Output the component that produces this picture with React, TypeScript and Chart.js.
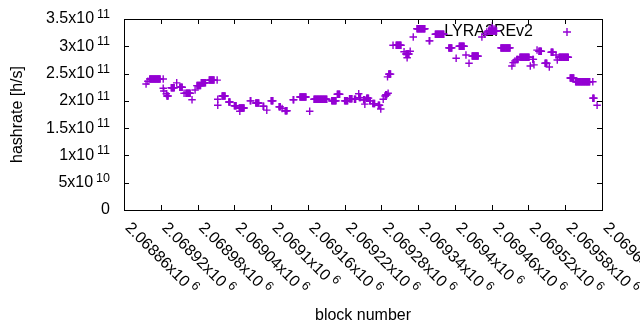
import { useEffect, useRef } from 'react';
import { Chart, registerables } from 'chart.js';

Chart.register(...registerables);

// X axis (block number) ticks: mantissa of value x10^6
const xTickValues = [
  2068860, 2068920, 2068980, 2069040, 2069100, 2069160, 2069220,
  2069280, 2069340, 2069400, 2069460, 2069520, 2069580, 2069640,
];
const xTickMantissas = [
  '2.06886', '2.06892', '2.06898', '2.06904', '2.0691', '2.06916', '2.06922',
  '2.06928', '2.06934', '2.0694', '2.06946', '2.06952', '2.06958', '2.06964',
];
const xTickExponent = '6';

// Y axis (hashrate) ticks
const yTickValues = [0, 5e10, 1e11, 1.5e11, 2e11, 2.5e11, 3e11, 3.5e11];
const yTickMantissas = ['0', '5', '1', '1.5', '2', '2.5', '3', '3.5'];
const yTickExponents = ['', '10', '11', '11', '11', '11', '11', '11'];

const seriesName = 'LYRA2REv2';

// Runs of consecutive blocks sharing one hashrate estimate:
// [first block, last block, hashrate in GH/s]
const hashrateRuns: [number, number, number][] = [
  [2068896, 2068896, 231],
  [2068899, 2068899, 236],
  [2068902, 2068919, 240],
  [2068924, 2068924, 240],
  [2068924, 2068924, 223],
  [2068925, 2068925, 218],
  [2068929, 2068929, 213],
  [2068930, 2068932, 209],
  [2068937, 2068942, 224],
  [2068946, 2068946, 233],
  [2068951, 2068955, 225],
  [2068958, 2068958, 214],
  [2068961, 2068968, 214],
  [2068971, 2068971, 202],
  [2068976, 2068976, 220],
  [2068979, 2068985, 228],
  [2068986, 2068993, 233],
  [2068999, 2069007, 238],
  [2069012, 2069012, 238],
  [2069013, 2069013, 203],
  [2069013, 2069013, 192],
  [2069020, 2069025, 209],
  [2069031, 2069033, 198],
  [2069040, 2069043, 191],
  [2069048, 2069056, 187],
  [2069049, 2069049, 181],
  [2069066, 2069067, 200],
  [2069075, 2069080, 196],
  [2069087, 2069088, 190],
  [2069093, 2069093, 183],
  [2069100, 2069103, 200],
  [2069113, 2069115, 189],
  [2069118, 2069118, 186],
  [2069123, 2069126, 182],
  [2069136, 2069137, 202],
  [2069147, 2069157, 207],
  [2069163, 2069163, 181],
  [2069170, 2069191, 203],
  [2069199, 2069206, 200],
  [2069208, 2069212, 212],
  [2069220, 2069225, 200],
  [2069228, 2069232, 204],
  [2069236, 2069238, 203],
  [2069243, 2069243, 213],
  [2069244, 2069246, 206],
  [2069251, 2069253, 202],
  [2069253, 2069253, 194],
  [2069256, 2069259, 205],
  [2069261, 2069262, 200],
  [2069266, 2069269, 195],
  [2069275, 2069277, 192],
  [2069279, 2069279, 185],
  [2069283, 2069283, 203],
  [2069286, 2069286, 209],
  [2069287, 2069289, 211],
  [2069291, 2069291, 214],
  [2069290, 2069290, 244],
  [2069292, 2069295, 249],
  [2069299, 2069299, 302],
  [2069304, 2069312, 302],
  [2069317, 2069317, 290],
  [2069320, 2069325, 286],
  [2069322, 2069322, 279],
  [2069327, 2069327, 291],
  [2069332, 2069332, 317],
  [2069338, 2069351, 332],
  [2069358, 2069359, 310],
  [2069368, 2069382, 322],
  [2069390, 2069395, 297],
  [2069402, 2069402, 278],
  [2069407, 2069415, 300],
  [2069418, 2069418, 284],
  [2069423, 2069423, 269],
  [2069428, 2069438, 282],
  [2069444, 2069444, 317],
  [2069449, 2069449, 322],
  [2069452, 2069452, 326],
  [2069455, 2069468, 328],
  [2069461, 2069461, 337],
  [2069475, 2069490, 297],
  [2069493, 2069493, 264],
  [2069495, 2069495, 270],
  [2069498, 2069498, 273],
  [2069501, 2069503, 276],
  [2069506, 2069521, 280],
  [2069523, 2069523, 264],
  [2069527, 2069528, 276],
  [2069529, 2069529, 266],
  [2069534, 2069534, 293],
  [2069537, 2069541, 291],
  [2069547, 2069550, 269],
  [2069554, 2069554, 262],
  [2069557, 2069560, 289],
  [2069565, 2069565, 284],
  [2069567, 2069567, 275],
  [2069570, 2069585, 280],
  [2069588, 2069594, 242],
  [2069597, 2069620, 235],
  [2069625, 2069625, 235],
  [2069625, 2069627, 205],
  [2069632, 2069632, 192],
];

const FONT = '"Liberation Sans", Arial, sans-serif';
const COLOR = '#9400D3';
const MAIN_FONT = `16px ${FONT}`;
const SUP_FONT = `12.5px ${FONT}`;

const gnuplotFrame = {
  id: 'gnuplotFrame',
  beforeDatasetsDraw(chart: any) {
    const { ctx, chartArea } = chart;
    ctx.save();
    // legend
    ctx.fillStyle = '#000';
    ctx.font = MAIN_FONT;
    ctx.textAlign = 'right';
    ctx.textBaseline = 'middle';
    ctx.fillText(seriesName, chartArea.right - 69, chartArea.top + 13);
    const mx = chartArea.right - 35;
    const my = chartArea.top + 13;
    ctx.strokeStyle = COLOR;
    ctx.lineWidth = 1.4;
    ctx.beginPath();
    ctx.moveTo(mx - 4, my);
    ctx.lineTo(mx + 4, my);
    ctx.moveTo(mx, my - 4);
    ctx.lineTo(mx, my + 4);
    ctx.stroke();
    ctx.restore();
  },
  afterDraw(chart: any) {
    const { ctx, chartArea, scales } = chart;
    const xs = scales.x;
    const ys = scales.y;
    const L = chartArea.left;
    const R = chartArea.right;
    const T = chartArea.top;
    const B = chartArea.bottom;
    ctx.save();
    ctx.strokeStyle = '#000';
    ctx.lineWidth = 1;
    ctx.strokeRect(Math.round(L) + 0.5, Math.round(T) + 0.5, Math.round(R - L), Math.round(B - T));
    const tl = 5;
    ctx.beginPath();
    xTickValues.forEach((v) => {
      const px = Math.round(xs.getPixelForValue(v)) + 0.5;
      ctx.moveTo(px, B);
      ctx.lineTo(px, B - tl);
      ctx.moveTo(px, T);
      ctx.lineTo(px, T + tl);
    });
    yTickValues.forEach((v) => {
      const py = Math.round(ys.getPixelForValue(v)) + 0.5;
      ctx.moveTo(L, py);
      ctx.lineTo(L + tl, py);
      ctx.moveTo(R, py);
      ctx.lineTo(R - tl, py);
    });
    ctx.stroke();

    ctx.fillStyle = '#000';
    // y tick labels
    const yRight = L - 14;
    yTickValues.forEach((v, i) => {
      const py = ys.getPixelForValue(v);
      const exp = yTickExponents[i];
      ctx.textBaseline = 'middle';
      ctx.textAlign = 'right';
      if (!exp) {
        ctx.font = MAIN_FONT;
        ctx.fillText(yTickMantissas[i], yRight, py);
        return;
      }
      ctx.font = SUP_FONT;
      const w = ctx.measureText(exp).width;
      ctx.textBaseline = 'alphabetic';
      ctx.fillText(exp, yRight, py - 1);
      ctx.font = MAIN_FONT;
      ctx.textBaseline = 'middle';
      ctx.fillText(yTickMantissas[i] + 'x10', yRight - w - 3, py);
    });

    // x tick labels, rotated
    xTickValues.forEach((v, i) => {
      const px = xs.getPixelForValue(v);
      ctx.save();
      ctx.translate(px + 3.5, B + 15.5);
      ctx.rotate(Math.PI / 4);
      ctx.textAlign = 'left';
      ctx.textBaseline = 'middle';
      ctx.font = MAIN_FONT;
      const main = xTickMantissas[i] + 'x10';
      ctx.fillText(main, 0, 0);
      const w = ctx.measureText(main).width;
      ctx.font = SUP_FONT;
      ctx.fillText(xTickExponent, w + 4, -5);
      ctx.restore();
    });

    // axis titles
    ctx.font = MAIN_FONT;
    ctx.textAlign = 'center';
    ctx.textBaseline = 'middle';
    ctx.fillText('block number', (L + R) / 2, 316);
    ctx.save();
    ctx.translate(18, (T + B) / 2);
    ctx.rotate(-Math.PI / 2);
    ctx.fillText('hashrate [h/s]', 0, 0);
    ctx.restore();
    ctx.restore();
  },
};

export default function App() {
  const canvasRef = useRef<HTMLCanvasElement | null>(null);

  useEffect(() => {
    const canvas = canvasRef.current;
    if (!canvas) return;
    const points: { x: number; y: number }[] = [];
    hashrateRuns.forEach(([start, end, gh]) => {
      for (let b = start; b <= end; b++) points.push({ x: b, y: gh * 1e9 });
    });
    const chart = new Chart(canvas, {
      type: 'scatter',
      data: {
        datasets: [
          {
            label: seriesName,
            data: points,
            pointStyle: 'cross',
            pointRadius: 3.75,
            pointHoverRadius: 3.75,
            borderColor: COLOR,
            backgroundColor: COLOR,
            pointBorderWidth: 1.4,
            borderWidth: 1.4,
            showLine: false,
          },
        ],
      },
      options: {
        responsive: false,
        animation: false,
        events: [],
        layout: { padding: { left: 124, right: 38, top: 19, bottom: 120 } },
        plugins: { legend: { display: false }, tooltip: { enabled: false } },
        scales: {
          x: { type: 'linear', min: 2068860, max: 2069640, display: false },
          y: { type: 'linear', min: 0, max: 3.5e11, display: false },
        },
      },
      plugins: [gnuplotFrame],
    });
    return () => chart.destroy();
  }, []);

  return (
    <div style={{ position: 'absolute', left: 0, top: 0, width: 640, height: 330, background: '#fff' }}>
      <canvas ref={canvasRef} width={640} height={330} style={{ display: 'block' }} />
    </div>
  );
}
